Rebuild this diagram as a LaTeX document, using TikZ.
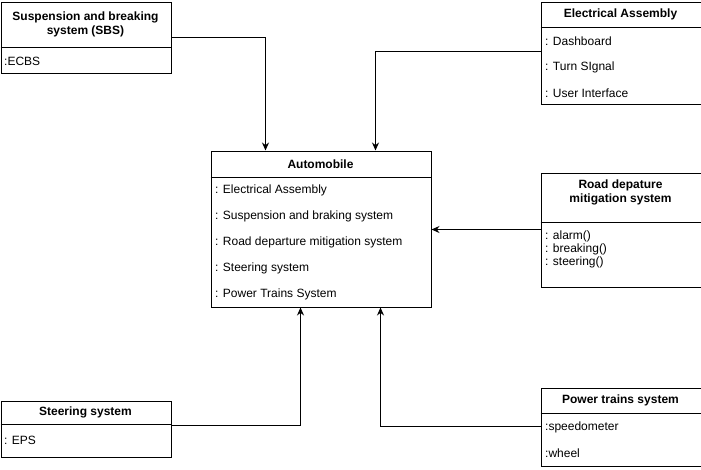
\documentclass[tikz,border=0pt]{standalone}
\usepackage{fontspec}
\setmainfont{Liberation Sans}
\usetikzlibrary{arrows.meta}
\begin{document}
\begin{tikzpicture}[x=1pt,y=-1pt,
  font=\fontsize{12}{14}\selectfont,
  box/.style={draw, line width=1pt, anchor=north west, inner sep=0pt, fill=white},
  divider/.style={line width=1pt},
  ttl/.style={font=\fontsize{12}{14}\selectfont\bfseries, align=center, inner sep=0pt},
  itm/.style={anchor=west, inner sep=0pt, yshift=-1.5pt},
  arr/.style={line width=1pt, -{Stealth[length=8pt,width=7pt]}}
]
\useasboundingbox (0,0) rectangle (701,469);

% Suspension and breaking system
\node[box, minimum width=170pt, minimum height=71pt] (sbs) at (0.5,1.5) {};
\draw[divider] (0.5,47) -- (170.5,47);
\node[ttl] (sbsT) at (85.5,24) {Suspension and breaking\\system (SBS)};
\node[itm] (sbs1) at (4,60) {:ECBS};

% Electrical Assembly
\node[box, minimum width=160pt, minimum height=102pt] (ea) at (540.5,1.5) {};
\draw[divider] (540.5,27) -- (700.5,27);
\node[ttl] (eaT) at (620.5,14) {Electrical Assembly};
\node[itm] (ea1) at (545,40) {: Dashboard};
\node[itm] (ea2) at (545,66) {: Turn SIgnal};
\node[itm] (ea3) at (545,92) {: User Interface};

% Automobile
\node[box, minimum width=220pt, minimum height=156pt] (auto) at (210.5,150.5) {};
\draw[divider] (210.5,177) -- (430.5,177);
\node[ttl] (autoT) at (320.5,164) {Automobile};
\node[itm] (a1) at (215,189) {: Electrical Assembly};
\node[itm] (a2) at (215,215) {: Suspension and braking system};
\node[itm] (a3) at (215,241) {: Road departure mitigation system};
\node[itm] (a4) at (215,267) {: Steering system};
\node[itm] (a5) at (215,293) {: Power Trains System};

% Road departure mitigation system
\node[box, minimum width=160pt, minimum height=114pt] (rd) at (540.5,172.5) {};
\draw[divider] (540.5,222) -- (700.5,222);
\node[ttl] (rdT) at (620.5,192) {Road depature\\mitigation system};
\node[itm] (rd1) at (545,235) {: alarm()};
\node[itm] (rd2) at (545,248) {: breaking()};
\node[itm] (rd3) at (545,261) {: steering()};

% Steering system
\node[box, minimum width=170pt, minimum height=56pt] (st) at (0.5,400.5) {};
\draw[divider] (0.5,424) -- (170.5,424);
\node[ttl] (stT) at (85.5,412) {Steering system};
\node[itm] (st1) at (4,439) {: EPS};

% Power trains system
\node[box, minimum width=160pt, minimum height=78pt] (pt) at (540.5,387.5) {};
\draw[divider] (540.5,413) -- (700.5,413);
\node[ttl] (ptT) at (620.5,400) {Power trains system};
\node[itm] (pt1) at (545,426) {:speedometer};
\node[itm] (pt2) at (545,452) {:wheel};

% connectors
\draw[arr] (sbs.east |- 0,37.5) -| (auto.north -| 265.5,0);
\draw[arr] (ea.west |- 0,51.5) -| (auto.north -| 375.5,0);
\draw[arr] (rd.west |- 0,229.5) -- (auto.east |- 0,229.5);
\draw[arr] (st.east |- 0,425.5) -| (auto.south -| 300.5,0);
\draw[arr] (pt.west |- 0,426.5) -| (auto.south -| 380.5,0);
\end{tikzpicture}
\end{document}
